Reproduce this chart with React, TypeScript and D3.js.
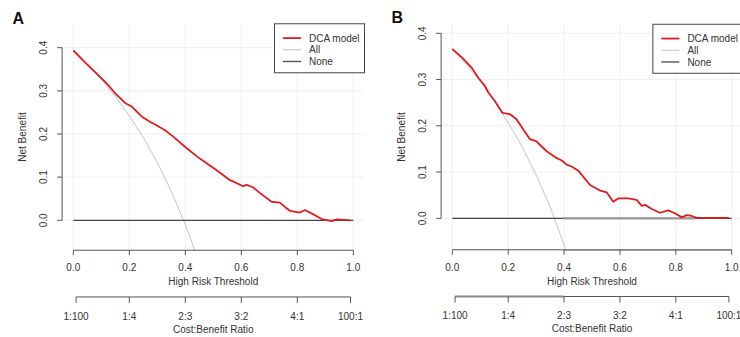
import React from 'react';
import * as d3 from 'd3';

// thresholds / net benefit
const thrModelA = [0, 0.04, 0.09, 0.125, 0.15, 0.185, 0.21, 0.245, 0.275, 0.3, 0.325, 0.357, 0.405, 0.452, 0.512, 0.56, 0.607, 0.619, 0.643, 0.667, 0.708, 0.738, 0.756, 0.774, 0.81, 0.827, 0.851, 0.887, 0.923, 0.941, 0.99];
const nbModelA = [0.394, 0.367, 0.336, 0.313, 0.294, 0.272, 0.263, 0.24, 0.228, 0.219, 0.21, 0.194, 0.167, 0.143, 0.116, 0.093, 0.079, 0.082, 0.076, 0.063, 0.043, 0.041, 0.031, 0.022, 0.018, 0.024, 0.016, 0.003, -0.002, 0.002, 0];

const thrAllA = [0, 0.05, 0.1, 0.15, 0.2, 0.25, 0.3, 0.35, 0.4, 0.44];
const nbAllA = [0.394, 0.362, 0.327, 0.287, 0.242, 0.192, 0.134, 0.067, -0.01, -0.08];

const thrModelB = [0, 0.034, 0.069, 0.093, 0.117, 0.129, 0.153, 0.179, 0.207, 0.23, 0.254, 0.278, 0.3, 0.338, 0.374, 0.392, 0.409, 0.427, 0.451, 0.493, 0.529, 0.553, 0.576, 0.594, 0.63, 0.66, 0.678, 0.69, 0.714, 0.743, 0.773, 0.797, 0.821, 0.839, 0.857, 0.875, 0.99];
const nbModelB = [0.366, 0.348, 0.326, 0.304, 0.286, 0.272, 0.253, 0.228, 0.225, 0.214, 0.192, 0.171, 0.167, 0.145, 0.13, 0.125, 0.116, 0.112, 0.103, 0.072, 0.06, 0.056, 0.036, 0.043, 0.043, 0.04, 0.027, 0.029, 0.02, 0.012, 0.017, 0.011, 0.002, 0.007, 0.005, 0.001, 0.001];

const thrAllB = [0, 0.05, 0.1, 0.15, 0.2, 0.25, 0.3, 0.35, 0.4, 0.41];
const nbAllB = [0.366, 0.333, 0.296, 0.254, 0.207, 0.155, 0.094, 0.025, -0.057, -0.074];

const xTicks = [0, 0.2, 0.4, 0.6, 0.8, 1.0];
const yTicks = [0, 0.1, 0.2, 0.3, 0.4];
const costLabels = ['1:100', '1:4', '2:3', '3:2', '4:1', '100:1'];
const legendLabels = ['DCA model', 'All', 'None'];

const FONT = "'Liberation Sans', Arial, sans-serif";
const RED = '#e41a1c';
const ALLGRAY = '#c4c4c4';
const AXIS = '#555';
const TEXT = '#333';

type PanelProps = {
  id: string;
  label: string;
  labelX: number;
  labelY: number;
  xRange: [number, number];
  y0: number;
  y4: number;
  yMax: number;
  thrModel: number[];
  nbModel: number[];
  thrAll: number[];
  nbAll: number[];
  artifacts?: boolean;
};

const Panel = (p: PanelProps) => {
  const x = d3.scaleLinear().domain([0, 1]).range(p.xRange);
  const y = d3.scaleLinear().domain([0, 0.4]).range([p.y0, p.y4]);
  const yMin = -0.05;
  const r = p.yMax - yMin;
  const left = x(-0.04);
  const right = x(1.04);
  const top = y(p.yMax + 0.04 * r);
  const bottom = y(yMin - 0.04 * r);

  const line = d3.line<[number, number]>().x(d => x(d[0])).y(d => y(d[1]));
  const model = p.thrModel.map((t, i) => [t, p.nbModel[i]] as [number, number]);
  const all = p.thrAll.map((t, i) => [t, p.nbAll[i]] as [number, number]);

  const costPos = costLabels.map(s => {
    const [c, b] = s.split(':').map(Number);
    return c / (c + b);
  });
  const costY = bottom + 46.7;

  const lgW = 90;
  const lgH = 49;
  const lgX = right - lgW;
  const lgY = top;

  return (
    <g fontFamily={FONT}>
      <defs>
        <clipPath id={`clip-${p.id}`}>
          <rect x={left} y={top} width={right - left} height={bottom - top} />
        </clipPath>
      </defs>
      <text x={p.labelX} y={p.labelY} fontSize={16} fontWeight="bold" fill="#111">{p.label}</text>

      {/* grid */}
      {xTicks.map(t => (
        <line key={`gx${t}`} x1={x(t)} x2={x(t)} y1={top} y2={bottom} stroke="#efefef" />
      ))}
      {yTicks.map(t => (
        <line key={`gy${t}`} x1={left} x2={right} y1={y(t)} y2={y(t)} stroke="#efefef" />
      ))}

      <g clipPath={`url(#clip-${p.id})`}>
        <path d={line(all) || ''} fill="none" stroke={ALLGRAY} strokeWidth={1} />
        <line x1={x(0)} x2={x(1)} y1={y(0)} y2={y(0)} stroke="#444" strokeWidth={1.3} />
        {p.artifacts && (
          <line x1={x(0.395)} x2={x(0.87)} y1={y(0)} y2={y(0)} stroke="#999" strokeWidth={2.2} />
        )}
        <path d={line(model) || ''} fill="none" stroke={RED} strokeWidth={1.8} strokeLinejoin="round" />
      </g>

      {/* y axis */}
      <line x1={left} x2={left} y1={y(0)} y2={y(0.4)} stroke={AXIS} />
      {yTicks.map(t => (
        <g key={`yt${t}`}>
          <line x1={left - 5} x2={left} y1={y(t)} y2={y(t)} stroke={AXIS} />
          <text transform={`translate(${left - 15},${y(t)}) rotate(-90)`} textAnchor="middle" fontSize={10} fill={TEXT}>
            {d3.format('.1f')(t)}
          </text>
        </g>
      ))}
      <text transform={`translate(${left - 36.5},${(top + bottom) / 2}) rotate(-90)`} textAnchor="middle" fontSize={10} fill={TEXT}>
        Net Benefit
      </text>

      {/* x axis */}
      <line x1={x(0)} x2={x(1)} y1={bottom} y2={bottom} stroke={AXIS} />
      {p.artifacts && <line x1={x(0.4)} x2={x(1)} y1={bottom} y2={bottom} stroke="#888" strokeWidth={1.8} />}
      {xTicks.map(t => (
        <g key={`xt${t}`}>
          <line x1={x(t)} x2={x(t)} y1={bottom} y2={bottom + 5} stroke={AXIS} />
          <text x={x(t)} y={bottom + 21} textAnchor="middle" fontSize={10} fill={TEXT}>
            {d3.format('.1f')(t)}
          </text>
        </g>
      ))}
      <text x={x(0.5)} y={bottom + 35} textAnchor="middle" fontSize={10} fill={TEXT}>High Risk Threshold</text>

      {/* cost:benefit axis */}
      <line x1={x(costPos[0])} x2={x(costPos[costPos.length - 1])} y1={costY} y2={costY} stroke={AXIS} />
      {p.artifacts && <line x1={x(costPos[0])} x2={x(0.4)} y1={costY} y2={costY} stroke="#888" strokeWidth={1.8} />}
      {costPos.map((t, i) => (
        <g key={`ct${i}`}>
          <line x1={x(t)} x2={x(t)} y1={costY} y2={costY + 6} stroke={AXIS} />
          <text x={x(t)} y={costY + 22.6} textAnchor="middle" fontSize={10} fill={TEXT}>{costLabels[i]}</text>
        </g>
      ))}
      <text x={x(0.5)} y={costY + 36} textAnchor="middle" fontSize={10} fill={TEXT}>Cost:Benefit Ratio</text>

      {/* legend */}
      <rect x={lgX} y={lgY} width={lgW} height={lgH} fill="white" stroke="#444" />
      {legendLabels.map((s, i) => {
        const ly = lgY + 14.3 + i * 11.7;
        const col = i === 0 ? RED : i === 1 ? ALLGRAY : '#555';
        const w = i === 0 ? 1.8 : i === 1 ? 1 : 1.4;
        return (
          <g key={s}>
            <line x1={lgX + 8.5} x2={lgX + 26.5} y1={ly} y2={ly} stroke={col} strokeWidth={w} />
            <text x={lgX + 34.5} y={ly + 3.6} fontSize={10} fill={TEXT}>{s}</text>
          </g>
        );
      })}
    </g>
  );
};

const App = () => (
  <svg width={740} height={337} style={{ position: 'absolute', left: 0, top: 0, background: 'white' }}>
    <Panel
      id="a" label="A" labelX={12.5} labelY={23.5}
      xRange={[73.3, 353.3]} y0={220.3} y4={47.7} yMax={0.436}
      thrModel={thrModelA} nbModel={nbModelA} thrAll={thrAllA} nbAll={nbAllA}
    />
    <Panel
      id="b" label="B" labelX={391.5} labelY={23}
      xRange={[452.3, 731.7]} y0={218.3} y4={33.3} yMax={0.4015}
      thrModel={thrModelB} nbModel={nbModelB} thrAll={thrAllB} nbAll={nbAllB} artifacts
    />
  </svg>
);

export default App;
